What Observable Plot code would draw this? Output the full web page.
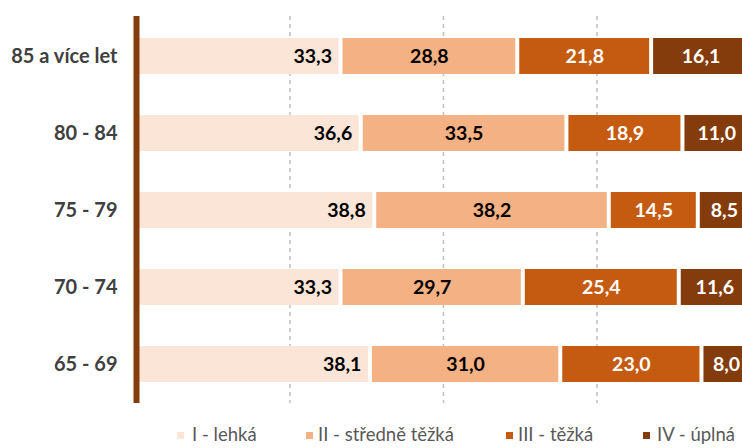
<!DOCTYPE html>
<html>
<head>
<meta charset="utf-8">
<script src="https://cdn.jsdelivr.net/npm/d3@7"></script>
<script src="https://cdn.jsdelivr.net/npm/@observablehq/plot@0.6"></script>
<style>
  body { margin: 0; background: #fff; font-family: Lato, "Open Sans", sans-serif; }
  #wrap { position: relative; width: 742px; height: 448px; overflow: hidden; }
  #legend { position: absolute; left: 0; top: 422px; width: 742px; height: 24px; font-size: 18.5px; color: #595959; }
  .sw { position: absolute; width: 7px; height: 7px; top: 10px; }
  .lt { position: absolute; top: 0; line-height: 24px; white-space: nowrap; }
</style>
</head>
<body>
<div id="wrap"><div id="chart"></div><div id="legend"></div></div>
<script>
const ages = ["85 a více let", "80 - 84", "75 - 79", "70 - 74", "65 - 69"];
const levels = ["I - lehká", "II - středně těžká", "III - těžká", "IV - úplná"];
const lehka = [33.3, 36.6, 38.8, 33.3, 38.1];
const stredne = [28.8, 33.5, 38.2, 29.7, 31.0];
const tezka = [21.8, 18.9, 14.5, 25.4, 23.0];
const uplna = [16.1, 11.0, 8.5, 11.6, 8.0];
const colors = ["#FBE5D6", "#F4B183", "#C55A11", "#843C0C"];
const labelColors = ["#000000", "#000000", "#ffffff", "#ffffff"];
const gridTicks = [25, 50, 75];

const series = [lehka, stredne, tezka, uplna];
const data = [];
ages.forEach((a, i) => series.forEach((s, j) => data.push({age: a, level: levels[j], value: s[i], li: j})));
const fmt = v => v.toFixed(1).replace(".", ",");

const chart = Plot.plot({
  width: 742,
  height: 420,
  marginLeft: 136,
  marginRight: 0,
  marginTop: 16,
  marginBottom: 17,
  style: {fontFamily: "Lato, 'Open Sans', sans-serif", background: "#fff"},
  x: {domain: [0, 98.7], axis: null},
  y: {domain: ages, paddingInner: 0.535, paddingOuter: 0.2675, label: null},
  color: {domain: levels, range: colors},
  marks: [
    Plot.ruleX(gridTicks, {stroke: "#BFBFBF", strokeWidth: 1.5, strokeDasharray: "4,4"}),
    Plot.barX(data, Plot.stackX({x: "value", y: "age", fill: "level", order: levels, insetLeft: 2, insetRight: 2})),
    Plot.text(data.filter(d => d.li === 0), Plot.stackX2({x: "value", y: "age", z: "level", text: d => fmt(d.value), textAnchor: "end", dx: -9, fill: "#000", fontSize: 19.5, fontWeight: "bold"})),
    Plot.text(data, Plot.stackX({x: "value", y: "age", z: "level", order: levels, text: d => d.li === 0 ? "" : fmt(d.value), fill: d => labelColors[d.li], fontSize: 19.5, fontWeight: "bold"})),
    Plot.axisY({tickSize: 0, tickPadding: 19, fontSize: 20, fontWeight: "bold", fill: "#404040", label: null}),
    Plot.ruleX([0], {stroke: "#843C0C", strokeWidth: 6})
  ]
});
document.getElementById("chart").appendChild(chart);

const leg = document.getElementById("legend");
const swX = [177, 306, 506, 643];
const txX = [192, 318, 518, 657];
levels.forEach((l, i) => {
  const s = document.createElement("div");
  s.className = "sw"; s.style.left = swX[i] + "px"; s.style.background = colors[i];
  leg.appendChild(s);
  const t = document.createElement("div");
  t.className = "lt"; t.style.left = txX[i] + "px"; t.textContent = l;
  leg.appendChild(t);
});
</script>
</body>
</html>
